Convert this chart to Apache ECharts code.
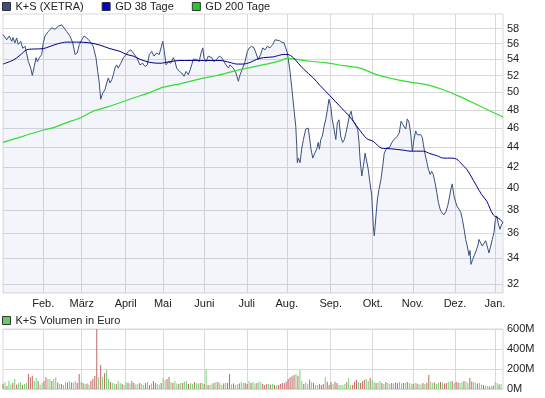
<!DOCTYPE html>
<html>
<head>
<meta charset="utf-8">
<script src="https://cdn.jsdelivr.net/npm/echarts@6/dist/echarts.min.js"></script>
<style>html,body{margin:0;padding:0;background:#fff}#c{width:545px;height:398px}</style>
</head>
<body>
<div id="c"></div>
<script>
// ---- x axis: trading-day positions of month starts and their labels
const monthTicks = [20.6, 40.3, 62.8, 81.8, 103.1, 124.8, 145.3, 167.8, 189.3, 209.8, 231.4, 251.9];
const monthLabels = ['Feb.', 'März', 'April', 'Mai', 'Juni', 'Juli', 'Aug.', 'Sep.', 'Okt.', 'Nov.', 'Dez.', 'Jan.'];
const priceTicks = [32, 34, 36, 38, 40, 42, 44, 46, 48, 50, 52, 54, 56, 58];
const volumeTicks = [0, 200, 400, 600];

// ---- K+S (XETRA) close
const priceDay = [0,1.9,3.2,4.5,5.1,6.1,7.0,7.8,9.1,10.1,11.3,13.0,14.2,15.0,16.0,16.9,17.6,18.6,19.8,20.6,21.5,23.2,24.9,26.6,28.3,30.1,30.9,32.6,34.3,35.7,36.9,38.0,39.1,40.3,41.5,42.9,44.5,46.2,47.6,48.5,49.3,50.0,51.0,52.2,53.1,53.9,54.8,55.7,56.5,57.3,58.2,59.0,60.3,61.6,63.0,64.2,65.4,66.7,68.5,70.1,71.5,72.7,73.9,74.9,76.1,77.3,78.7,80.0,80.9,81.8,82.6,83.5,84.6,85.9,87.2,88.1,88.9,90.3,91.5,92.7,93.7,94.9,95.8,96.6,97.4,98.3,99.2,100.4,101.4,102.3,102.9,103.9,105.1,106.0,106.9,108.0,109.4,110.8,112.0,113.2,114.2,115.4,116.2,117.1,117.9,119.3,120.5,121.4,122.7,123.9,125.1,126.1,127.3,128.5,129.5,130.7,131.9,133.0,134.2,135.3,136.7,138.1,139.3,140.1,141.5,142.7,143.9,144.4,145.6,147.0,148.3,149.0,149.9,150.4,150.7,151.2,152.1,152.9,153.8,155.0,156.3,157.2,157.7,158.6,159.4,160.6,161.4,162.0,162.7,163.5,164.4,165.2,166.1,166.9,167.8,168.6,169.5,170.4,171.2,172.0,172.9,173.9,174.8,175.6,176.5,177.3,178.2,179.1,179.9,180.8,181.6,182.3,182.8,183.7,184.5,185.4,186.2,187.0,187.9,188.8,189.6,190.1,191.0,191.7,192.5,193.5,194.4,195.2,196.5,197.8,199.0,200.2,201.2,201.9,202.9,203.8,204.7,205.3,206.2,207.0,207.9,208.8,209.6,210.4,211.3,212.1,213.0,213.9,214.7,215.2,216.1,216.9,217.8,218.7,219.5,220.3,221.2,222.1,222.9,223.8,224.6,225.8,226.8,227.7,228.5,229.4,230.0,230.9,231.8,232.6,233.5,234.4,235.2,236.1,236.9,237.7,238.6,239.1,239.6,240.5,241.3,242.2,243.1,243.7,244.6,245.4,246.3,247.1,247.9,248.8,249.7,250.5,251.4,252.1,252.8,253.6,254.5,255.3,256.0];
const priceClose = [57.2,56.5,57.0,56.3,56.8,56.1,56.75,55.9,56.3,55.4,55.65,53.7,52.9,52.0,53.1,54.2,53.7,54.2,54.6,56.1,57.0,57.6,58.1,57.9,58.3,58.5,58.2,57.6,57.0,56.1,54.6,54.8,55.9,56.5,57.0,56.75,56.3,55.65,54.2,52.5,51.1,49.2,49.9,50.3,51.1,51.7,51.1,51.5,52.1,52.9,53.3,52.9,53.5,54.2,54.6,55.0,55.2,54.8,54.2,53.3,53.5,53.1,53.3,54.6,55.0,54.4,54.8,54.6,55.45,56.3,55.0,53.3,53.7,53.5,54.2,53.7,52.9,52.5,52.3,51.9,52.5,52.1,52.7,53.3,54.0,54.2,54.0,53.7,54.8,55.45,54.2,53.7,54.4,54.6,54.2,53.7,54.0,54.4,54.2,53.7,53.3,52.9,53.3,53.5,52.9,52.3,51.3,52.1,52.9,53.7,55.0,55.45,55.65,55.45,54.8,53.95,54.6,55.45,55.2,55.65,55.45,55.9,56.5,56.75,56.4,56.2,56.1,55.9,54.8,52.4,49.55,48.0,46.2,44.1,42.45,42.9,42.45,43.8,44.8,45.9,46.0,45.9,43.8,42.9,43.3,43.8,44.5,43.8,44.8,45.15,46.2,46.9,48.0,49.2,48.4,46.9,45.9,44.8,46.6,46.9,45.15,44.5,44.8,45.5,46.4,47.3,47.85,46.9,47.1,46.2,45.9,44.5,42.8,41.15,42.1,43.4,43.3,41.8,40.5,39.3,36.6,35.8,37.6,39.0,39.9,40.8,42.1,43.4,43.95,43.95,44.46,44.8,44.6,45.15,45.5,46.75,46.4,46.6,45.9,47.0,46.6,45.3,43.6,44.8,45.7,45.3,45.15,45.3,45.0,44.3,43.3,42.6,41.8,41.3,41.6,41.3,40.5,39.6,38.7,38.1,37.8,37.6,37.9,38.4,39.1,40.0,40.4,39.3,38.7,38.3,38.1,37.8,37.2,36.35,35.5,34.96,34.2,34.6,33.5,33.9,34.2,34.3,34.96,35.5,35.2,34.96,35.2,35.4,34.96,34.4,34.96,35.5,36.1,37.2,37.5,36.8,36.35,36.8,36.9];

// ---- GD 38 Tage
const gd38Day = [0,5.3,8.7,12.1,15.5,20.6,24.1,28.3,32.6,37.7,44.5,49.7,54.8,59.9,63.3,66.7,70.1,75.3,80.4,85.5,90.6,100.9,111.1,116.2,119.7,123.0,126.5,129.9,133.3,138.4,143.5,145.9,148.6,153.8,158.9,162.3,167.4,172.5,177.7,181.9,186.2,189.6,193.9,198.2,205.0,208.4,215.2,218.6,222.1,225.5,229.7,232.3,234.9,237.4,239.1,242.5,245.1,247.7,251.0,254.5,256.0];
const gd38 = [53.4,53.9,54.5,55.2,55.3,55.35,55.65,56.0,56.2,56.2,56.1,55.8,55.35,55.0,54.6,54.4,54.0,53.6,53.5,53.7,53.85,53.85,53.85,53.6,53.4,53.4,53.6,54.0,54.2,54.3,54.6,54.6,54.2,52.8,51.7,50.8,49.6,48.4,47.2,46.0,44.9,44.6,43.9,43.85,43.7,43.6,43.6,43.35,43.15,42.9,42.9,42.8,42.3,41.8,41.3,40.2,39.4,38.8,37.6,37.2,36.9];

// ---- GD 200 Tage
const gd200Day = [0,8.7,18.9,25.8,32.6,39.4,46.2,53.1,59.9,66.7,73.6,82.1,90.6,100.9,109.4,117.9,124.8,135.0,141.8,145.3,148.6,157.2,165.7,174.3,182.8,191.3,199.8,208.4,216.9,225.5,234.0,242.5,251.0,256.0];
const gd200 = [44.5,45.05,45.7,46.05,46.6,47.1,47.85,48.3,48.8,49.35,49.85,50.6,51.0,51.6,52.0,52.5,52.9,53.4,53.8,54.1,54.05,53.75,53.55,53.2,52.9,52.1,51.6,51.2,50.9,50.3,49.5,48.6,47.7,47.2];

// ---- K+S Volumen in Euro (millions), one bar per trading day; 1 = green bar, 0 = red bar
const volume = [
50,67,30,83,45,60,100,45,60,70,
40,50,60,150,117,133,80,110,80,45,
60,80,117,100,100,80,100,117,65,50,
50,40,65,65,80,65,65,80,60,150,
70,60,50,55,45,80,100,130,600,117,
240,123,157,190,100,70,60,55,50,80,
60,50,40,70,60,55,80,60,45,50,
60,50,40,60,70,40,55,80,60,50,
45,60,110,90,100,120,70,60,80,55,
50,60,60,75,80,50,60,50,70,60,
55,60,60,50,200,40,40,55,60,70,
70,60,40,55,60,60,150,45,55,40,
50,55,70,60,60,50,80,60,70,55,
60,75,67,50,40,50,50,43,50,40,
33,40,50,60,57,73,100,117,127,140,
150,133,190,83,50,67,50,93,67,60,
40,40,50,40,50,117,73,40,67,50,
73,60,40,40,40,50,67,110,40,40,
73,90,70,60,80,90,100,80,110,90,
70,60,65,80,60,50,70,60,50,60,
55,65,60,70,55,60,60,70,60,55,
50,60,55,50,45,60,50,60,140,70,
60,65,50,60,70,65,55,60,70,75,
80,60,70,65,60,70,80,75,60,110,
75,70,60,55,60,45,40,30,30,25,
30,35,70,60,45,50];
const volumeUp = [
0,1,0,1,1,0,1,0,1,1,
0,1,1,0,0,0,1,1,0,1,
1,0,0,1,1,0,1,1,0,1,
0,1,1,0,1,0,1,1,0,0,
1,0,1,0,1,0,0,0,0,1,
0,1,0,1,1,0,1,1,0,1,
1,0,1,1,0,1,0,0,1,1,
0,1,1,0,1,0,1,0,0,1,
1,0,1,1,0,0,1,0,1,1,
0,1,0,1,1,0,1,1,0,1,
1,0,1,0,1,0,1,1,0,1,
0,1,1,0,1,0,0,1,0,1,
1,0,1,1,0,0,1,0,1,1,
0,1,1,0,0,0,1,0,1,0,
1,0,0,0,0,0,0,0,0,0,
1,0,1,1,0,1,1,0,1,0,
1,1,0,0,0,1,0,0,0,1,
0,0,1,1,1,1,0,1,1,0,
0,0,1,0,0,0,1,1,0,1,
1,0,1,1,0,1,0,1,1,0,
1,0,0,1,1,0,1,0,1,1,
0,1,0,1,1,0,1,0,0,1,
1,0,1,1,0,1,0,0,1,1,
0,1,0,0,1,1,0,1,1,0,
0,1,1,0,1,1,0,1,1,0,
1,0,1,1,0,1];

const FONT = 'Liberation Sans, Arial, sans-serif';
const TXT = '#222';
const GRID = '#d9d9d9';
const zip = (a, b) => a.map((x, i) => [x, b[i]]);
const monthLabel = v => {
  const i = monthTicks.findIndex(t => Math.abs(t - v) < 0.01);
  return i >= 0 ? monthLabels[i] : '';
};

const chart = echarts.init(document.getElementById('c'), null, {renderer: 'canvas'});
const xCommon = {
  type: 'value', min: 0, max: 256,
  axisLine: {show: false},
  axisTick: {show: false, customValues: monthTicks},
  splitLine: {show: true, lineStyle: {color: GRID, width: 1}}
};
chart.setOption({
  animation: false,
  textStyle: {fontFamily: FONT},
  grid: [
    {left: 3, right: 42, top: 14, height: 279, show: true, borderColor: GRID, borderWidth: 1, backgroundColor: '#fff'},
    {left: 3, right: 42, top: 329, height: 60, show: true, borderColor: GRID, borderWidth: 1, backgroundColor: '#fff'}
  ],
  legend: [
    {
      left: 2, top: 1, padding: 0, itemWidth: 8, itemHeight: 8, itemGap: 18, selectedMode: false,
      textStyle: {fontSize: 11, color: TXT, fontFamily: FONT},
      data: [
        {name: 'K+S (XETRA)', icon: 'rect', itemStyle: {color: '#3b5080', borderColor: '#333', borderWidth: 1}},
        {name: 'GD 38 Tage', icon: 'rect', itemStyle: {color: '#0000cc', borderColor: '#333', borderWidth: 1}},
        {name: 'GD 200 Tage', icon: 'rect', itemStyle: {color: '#22cc22', borderColor: '#333', borderWidth: 1}}
      ]
    },
    {
      left: 2, top: 315, padding: 0, itemWidth: 8, itemHeight: 8, selectedMode: false,
      textStyle: {fontSize: 11, color: TXT, fontFamily: FONT},
      data: [{name: 'K+S Volumen in Euro', icon: 'rect', itemStyle: {color: '#66cc66', borderColor: '#333', borderWidth: 1}}]
    }
  ],
  xAxis: [
    Object.assign({}, xCommon, {
      gridIndex: 0,
      axisLabel: {show: true, customValues: monthTicks, formatter: monthLabel, margin: 5, fontSize: 11, color: TXT, fontFamily: FONT}
    }),
    Object.assign({}, xCommon, {gridIndex: 1, axisLabel: {show: false}})
  ],
  yAxis: [
    {
      gridIndex: 0, type: 'log', logBase: 10, min: 31.34, max: 60, position: 'right',
      axisLine: {show: false},
      axisTick: {show: false, customValues: priceTicks},
      axisLabel: {customValues: priceTicks, margin: 4, fontSize: 11, color: TXT, fontFamily: FONT, formatter: v => String(Math.round(v))},
      splitLine: {show: true, lineStyle: {color: GRID, width: 1}}
    },
    {
      gridIndex: 1, type: 'value', min: 0, max: 600, interval: 200, position: 'right',
      axisLine: {show: false}, axisTick: {show: false},
      axisLabel: {margin: 4, fontSize: 11, color: TXT, fontFamily: FONT, formatter: v => v + 'M'},
      splitLine: {show: true, lineStyle: {color: GRID, width: 1}}
    }
  ],
  series: [
    {
      name: 'K+S (XETRA)', type: 'line', xAxisIndex: 0, yAxisIndex: 0,
      data: zip(priceDay, priceClose), showSymbol: false, symbol: 'none',
      lineStyle: {color: '#3b5080', width: 1},
      itemStyle: {color: '#3b5080'},
      areaStyle: {origin: 'start', color: 'rgba(90,120,200,0.10)'},
      emphasis: {disabled: true}, z: 2
    },
    {
      name: 'GD 200 Tage', type: 'line', xAxisIndex: 0, yAxisIndex: 0,
      data: zip(gd200Day, gd200), showSymbol: false, symbol: 'none', smooth: 0.3,
      lineStyle: {color: '#33dd33', width: 1.2}, itemStyle: {color: '#22cc22'},
      emphasis: {disabled: true}, z: 3
    },
    {
      name: 'GD 38 Tage', type: 'line', xAxisIndex: 0, yAxisIndex: 0,
      data: zip(gd38Day, gd38), showSymbol: false, symbol: 'none', smooth: 0.3,
      lineStyle: {color: '#000088', width: 1}, itemStyle: {color: '#0000cc'},
      emphasis: {disabled: true}, z: 4
    },
    {
      name: 'K+S Volumen in Euro', type: 'bar', xAxisIndex: 1, yAxisIndex: 1,
      barWidth: 1, barGap: '0%',
      itemStyle: {color: '#66cc66'},
      data: volume.map((v, i) => ({value: [i, v], itemStyle: {color: volumeUp[i] ? '#74d474' : '#c46464'}})),
      emphasis: {disabled: true}
    }
  ]
});
</script>
</body>
</html>
